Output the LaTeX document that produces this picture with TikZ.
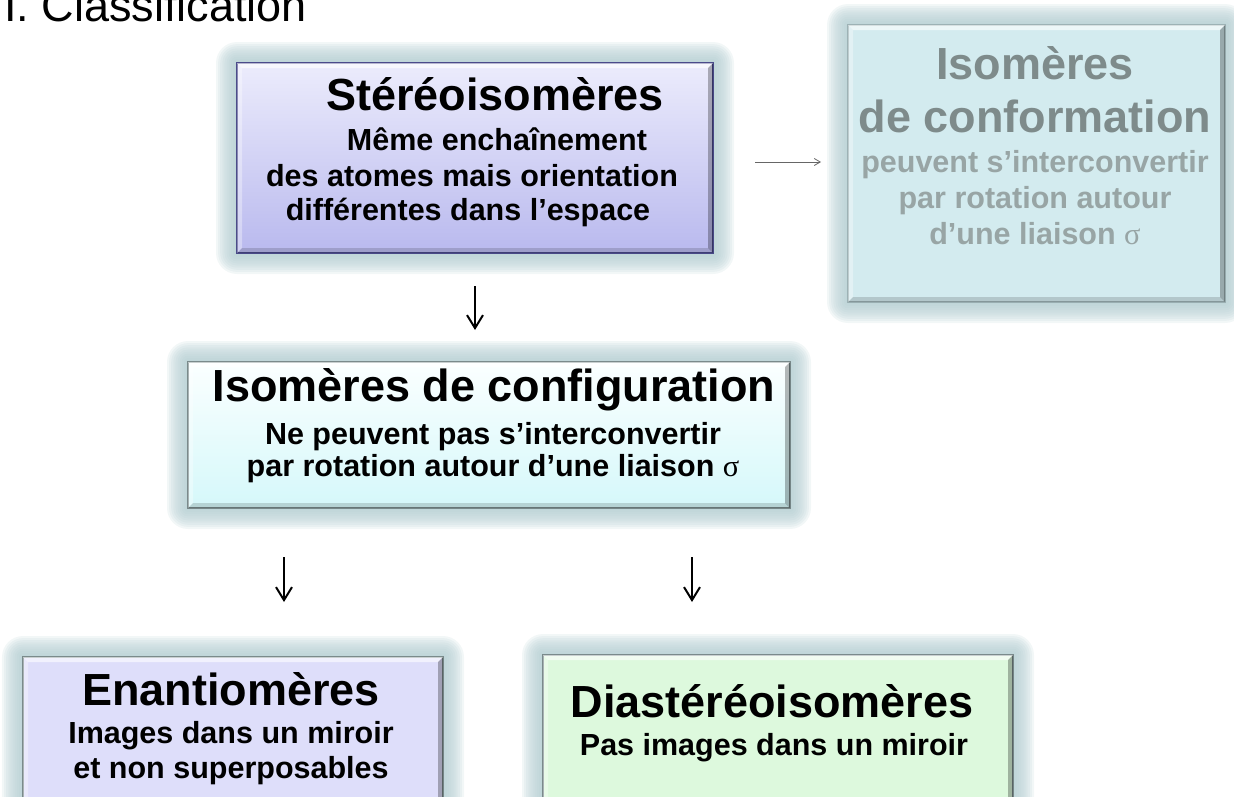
\documentclass[tikz,border=0pt]{standalone}
\usepackage{fontspec}
\setmainfont{Liberation Sans}
\newfontfamily\sigf{Liberation Serif}
\usetikzlibrary{arrows.meta,calc,backgrounds}
\definecolor{glowc}{HTML}{B4CED2}
\definecolor{stT}{HTML}{ECECFC}
\definecolor{stB}{HTML}{B9B9EE}
\definecolor{stD}{HTML}{4B4B8A}
\definecolor{cfF}{HTML}{D3EBEF}
\definecolor{cfD}{HTML}{9DB2B5}
\definecolor{cfTitle}{HTML}{7E8B8B}
\definecolor{cfSub}{HTML}{98A5A5}
\definecolor{cgT}{HTML}{FBFFFF}
\definecolor{cgB}{HTML}{D5F8FA}
\definecolor{grayD}{HTML}{7A8A8B}
\definecolor{enF}{HTML}{DEDEFA}
\definecolor{diF}{HTML}{DDF9DD}
\tikzset{
  box/.style={draw=#1, line width=1.3pt, inner sep=0pt, outer sep=0pt, anchor=north west},
  ttl/.style={anchor=base, font=\fontsize{45}{50}\selectfont\bfseries},
  sub/.style={anchor=base, font=\fontsize{30.5}{34}\selectfont\bfseries},
  varrow/.style={line width=1.3pt, -{Straight Barb[length=13pt,width=16pt,line width=2pt]}},
  harrow/.style={draw=black!60, line width=0.8pt, -{Straight Barb[length=6pt,width=7pt]}},
}
\newcommand\bevelit[2][5pt]{%
  \fill[white,opacity=.6] (#2.north west) -- (#2.north east) -- ($(#2.north east)+(-#1,-#1)$) -- ($(#2.north west)+(#1,-#1)$) -- cycle;
  \fill[white,opacity=.35] (#2.north west) -- ($(#2.north west)+(#1,-#1)$) -- ($(#2.south west)+(#1,#1)$) -- (#2.south west) -- cycle;
  \fill[black,opacity=.28] (#2.north east) -- (#2.south east) -- ($(#2.south east)+(-#1,#1)$) -- ($(#2.north east)+(-#1,-#1)$) -- cycle;
  \fill[black,opacity=.15] (#2.south west) -- (#2.south east) -- ($(#2.south east)+(-#1,#1)$) -- ($(#2.south west)+(#1,#1)$) -- cycle;
}
\begin{document}
\begin{tikzpicture}[x=1pt,y=-1pt]
\useasboundingbox (0,0) rectangle (1234,796);
% boxes
\node[box=stD, top color=stT, bottom color=stB, minimum width=476pt, minimum height=190pt] (stereo) at (237,63) {};
\node[box=cfD, fill=cfF, minimum width=377pt, minimum height=277pt] (conf) at (848,25) {};
\node[box=grayD, top color=cgT, bottom color=cgB, minimum width=602pt, minimum height=146pt] (config) at (188,362) {};
\node[box=grayD, fill=enF, minimum width=420pt, minimum height=180pt] (enan) at (23,657) {};
\node[box=grayD, fill=diF, minimum width=470pt, minimum height=180pt] (dia) at (543,655) {};
\foreach \n in {stereo,conf,config,enan,dia} {\bevelit{\n}}
% glow
\begin{scope}[on background layer]
\foreach \n in {stereo,conf,config,enan,dia} {
  \foreach \i in {1,...,10} {
    \pgfmathsetmacro\d{2.1*\i}
    \fill[glowc,opacity=0.17,rounded corners=\d pt,yshift=-2pt] ($(\n.north west)+(-\d pt,\d pt)$) rectangle ($(\n.south east)+(\d pt,-\d pt)$);
  }
}
\end{scope}
% title
\node[anchor=base west, inner sep=0pt, font=\fontsize{45}{50}\selectfont] (title) at (4,21) {I. Classification};
% texts
\node[ttl] (st1) at (495,110) {Stéréoisomères};
\node[sub] (st2) at (497,150) {Même enchaînement};
\node[sub] (st3) at (472,186) {des atomes mais orientation};
\node[sub] (st4) at (468,220) {différentes dans l’espace};
\node[ttl, text=cfTitle] (cf1) at (1035,79) {Isomères};
\node[ttl, text=cfTitle] (cf2) at (1035,132) {de conformation};
\node[sub, text=cfSub] (cf3) at (1035,172) {peuvent s’interconvertir};
\node[sub, text=cfSub] (cf4) at (1035,208) {par rotation autour};
\node[sub, text=cfSub] (cf5) at (1035,244) {d’une liaison {\sigf\mdseries σ}};
\node[ttl] (cg1) at (494,401) {Isomères de configuration};
\node[sub] (cg2) at (493,444) {Ne peuvent pas s’interconvertir};
\node[sub] (cg3) at (493,476) {par rotation autour d’une liaison {\sigf\mdseries σ}};
\node[ttl] (en1) at (231,705) {Enantiomères};
\node[sub] (en2) at (231,743) {Images dans un miroir};
\node[sub] (en3) at (231,778) {et non superposables};
\node[ttl] (di1) at (772,717) {Diastéréoisomères};
\node[sub] (di2) at (774,755) {Pas images dans un miroir};
% connectors
\draw[harrow, shorten <=42pt, shorten >=27pt] ([yshift=-4pt]stereo.east) -- ([yshift=-4pt]stereo.east -| conf.west);
\draw[varrow, shorten <=33pt, shorten >=32pt] (stereo.south) -- (stereo.south |- config.north);
\coordinate (a1) at ($(config.south west)+(96pt,0)$);
\coordinate (a2) at ($(config.south west)+(504pt,0)$);
\draw[varrow, shorten <=49pt, shorten >=55pt] (a1) -- (a1 |- enan.north);
\draw[varrow, shorten <=49pt, shorten >=53pt] (a2) -- (a2 |- dia.north);
\end{tikzpicture}
\end{document}
